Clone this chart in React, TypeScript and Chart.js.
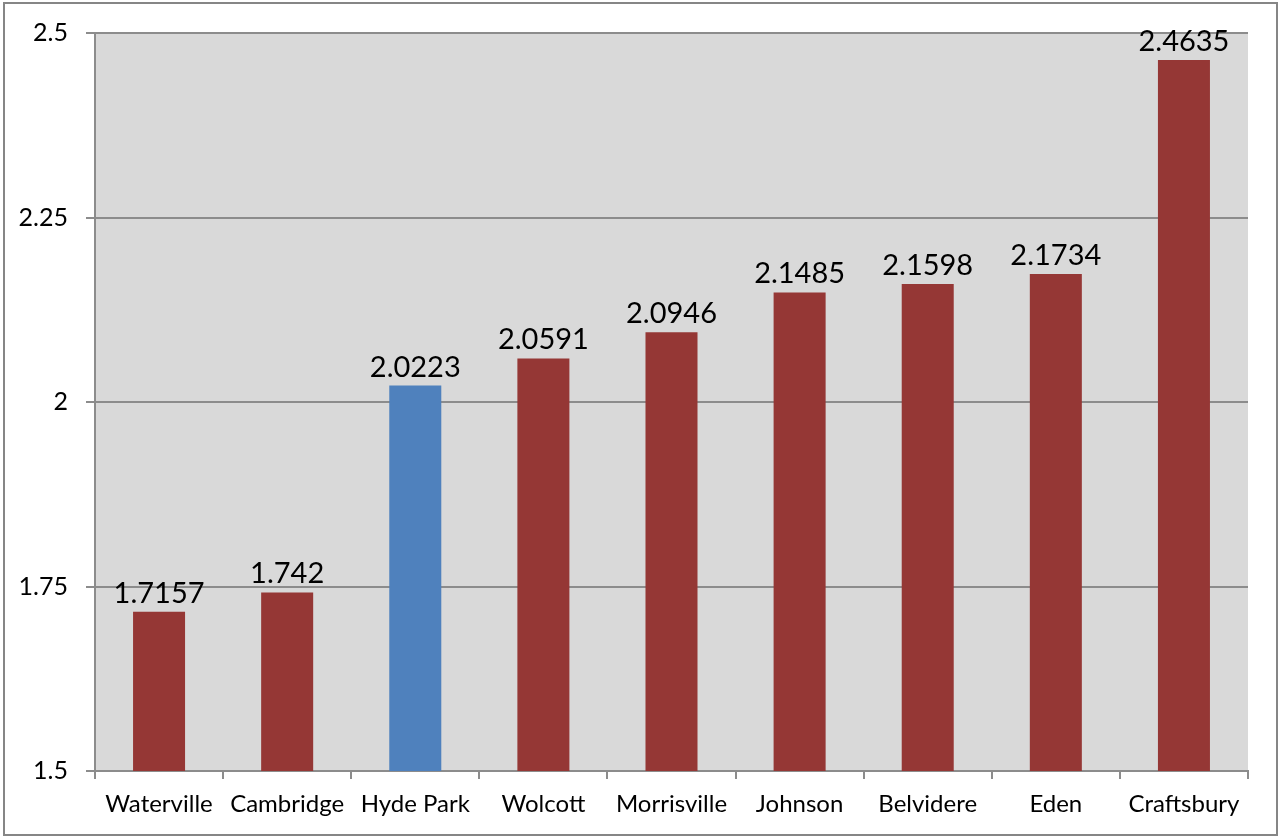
import React, { useEffect, useRef } from "react";
import { Chart, registerables } from "chart.js";

Chart.register(...registerables);

const towns = ["Waterville", "Cambridge", "Hyde Park", "Wolcott", "Morrisville", "Johnson", "Belvidere", "Eden", "Craftsbury"];
const values = [1.7157, 1.742, 2.0223, 2.0591, 2.0946, 2.1485, 2.1598, 2.1734, 2.4635];
const valueLabels = ["1.7157", "1.742", "2.0223", "2.0591", "2.0946", "2.1485", "2.1598", "2.1734", "2.4635"];
const highlightTown = "Hyde Park";
const yTicks = [1.5, 1.75, 2, 2.25, 2.5];

const RED = "#953735";
const BLUE = "#4F81BD";
const FONT = "Lato, 'Open Sans', sans-serif";

export default function App() {
  const ref = useRef<HTMLCanvasElement>(null);
  useEffect(() => {
    document.body.style.margin = "0";
    const canvas = ref.current!;
    const bgPlugin = {
      id: "bgPlugin",
      beforeDraw(chart: any) {
        const { ctx, chartArea } = chart;
        ctx.save();
        ctx.fillStyle = "#ffffff";
        ctx.fillRect(0, 0, chart.width, chart.height);
        ctx.fillStyle = "#D9D9D9";
        ctx.fillRect(chartArea.left, chartArea.top, chartArea.right - chartArea.left, chartArea.bottom - chartArea.top);
        ctx.strokeStyle = "#868686";
        ctx.lineWidth = 2;
        ctx.strokeRect(4, 3, 1273, 832);
        ctx.restore();
      },
      afterDatasetsDraw(chart: any) {
        const { ctx } = chart;
        const meta = chart.getDatasetMeta(0);
        ctx.save();
        ctx.fillStyle = "#000";
        ctx.font = `29px ${FONT}`;
        ctx.textAlign = "center";
        ctx.textBaseline = "alphabetic";
        meta.data.forEach((bar: any, i: number) => {
          ctx.fillText(valueLabels[i], bar.x, bar.y - 9);
        });
        ctx.restore();
      },
    };
    const chart = new Chart(canvas, {
      type: "bar",
      data: {
        labels: towns,
        datasets: [
          {
            data: values,
            backgroundColor: towns.map((t) => (t === highlightTown ? BLUE : RED)),
            barPercentage: 0.406,
            categoryPercentage: 1,
          },
        ],
      },
      options: {
        animation: false,
        responsive: false,
        maintainAspectRatio: false,
        layout: { padding: { top: 33, right: 30, left: 0, bottom: 0 } },
        plugins: { legend: { display: false }, tooltip: { enabled: false } },
        scales: {
          x: {
            grid: { display: true, drawOnChartArea: false, offset: true, color: "#8C8C8C", lineWidth: 2, tickLength: 8 },
            border: { display: true, color: "#8C8C8C", width: 2 },
            ticks: { color: "#000", font: { family: FONT, size: 24 }, padding: 11, maxRotation: 0, autoSkip: false },
            afterFit: (s: any) => { s.height = 66; },
          },
          y: {
            min: 1.5,
            max: 2.5,
            afterBuildTicks: (s: any) => { s.ticks = yTicks.map((v) => ({ value: v })); },
            grid: { color: "#8C8C8C", lineWidth: 2, tickLength: 9 },
            border: { display: true, color: "#8C8C8C", width: 2 },
            ticks: { color: "#000", font: { family: FONT, size: 25 }, padding: 18, callback: (v: any) => String(v) },
            afterFit: (s: any) => { s.width = 95; },
          },
        },
      },
      plugins: [bgPlugin],
    });
    return () => chart.destroy();
  }, []);
  return (
    <div style={{ position: "absolute", left: 0, top: 0, width: 1278, height: 837 }}>
      <canvas ref={ref} width={1278} height={837} style={{ width: 1278, height: 837 }} />
    </div>
  );
}
